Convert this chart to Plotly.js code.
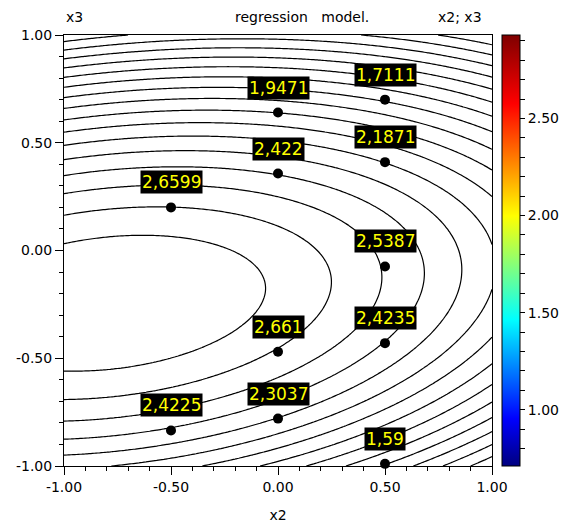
<!DOCTYPE html>
<html><head><meta charset="utf-8">
<script src="https://cdn.plot.ly/plotly-3.0.1.min.js"></script>
<style>html,body{margin:0;padding:0;background:#fff}#chart{width:573px;height:525px}</style>
</head><body><div id="chart"></div>
<script>
// Quadratic regression model: z = b0 + b1*x2 + b2*x3 + b11*x2^2 + b22*x3^2 + b12*x2*x3
const modelTerms = ['const', 'x2', 'x3', 'x2^2', 'x3^2', 'x2*x3'];
const modelCoef  = [2.7343, -0.3079, -0.4267, -0.2301, -1.255, 0.236];

// contour levels
const levelStart = 0.87, levelEnd = 2.80, levelStep = 0.12;

// labelled design points
const pointX2    = [0, 0.5, 0, 0.5, -0.5, 0.5, 0, 0.5, -0.5, 0, 0.5];
const pointX3    = [0.64, 0.70, 0.357, 0.41, 0.20, -0.074, -0.47, -0.43, -0.835, -0.78, -0.99];
const pointValue = [1.9471, 1.7111, 2.422, 2.1871, 2.6599, 2.5387, 2.661, 2.4235, 2.4225, 2.3037, 1.59];

// axis ticks
const axisTickVals = [-1, -0.5, 0, 0.5, 1];
const axisTickText = ['-1.00', '-0.50', '0.00', '0.50', '1.00'];

// colour bar
const colorMin = 0.71, colorMax = 2.93;
const cbTickVals = [0.8, 0.9, 1.0, 1.1, 1.2, 1.3, 1.4, 1.5, 1.6, 1.7, 1.8, 1.9, 2.0, 2.1, 2.2, 2.3, 2.4, 2.5, 2.6, 2.7, 2.8, 2.9];
const cbTickText = ['', '', '1.00', '', '', '', '', '1.50', '', '', '', '', '2.00', '', '', '', '', '2.50', '', '', '', ''];
const jetScale = [[0, '#00007f'], [0.11, '#0000ff'], [0.34, '#00ffff'], [0.58, '#ffff00'], [0.84, '#ff0000'], [1, '#7f0000']];

// evaluation grid for the model surface
const N = 121;
const gx = [], gy = [];
for (let i = 0; i < N; i++) { gx.push(-1 + 2 * i / (N - 1)); gy.push(-1 + 2 * i / (N - 1)); }
function model(a, b) {
  const c = modelCoef;
  return c[0] + c[1] * a + c[2] * b + c[3] * a * a + c[4] * b * b + c[5] * a * b;
}
const gz = gy.map(b => gx.map(a => model(a, b)));

const FONT = 'DejaVu Sans, Verdana, sans-serif';

const traces = [
  {
    type: 'contour', x: gx, y: gy, z: gz,
    autocontour: false,
    contours: { start: levelStart, end: levelEnd, size: levelStep, coloring: 'none', showlabels: false },
    line: { color: '#000', width: 1.2, smoothing: 0.5 },
    showscale: false, hoverinfo: 'skip'
  },
  {
    type: 'scatter', mode: 'markers', x: pointX2, y: pointX3, cliponaxis: false,
    marker: { color: '#000', size: 10 }, hoverinfo: 'skip'
  },
  {
    type: 'scatter', mode: 'markers', x: [null, null], y: [null, null], hoverinfo: 'skip',
    marker: {
      color: [colorMin, colorMax], cmin: colorMin, cmax: colorMax, colorscale: jetScale,
      showscale: true, opacity: 0,
      colorbar: {
        x: 1.0234, xanchor: 'left', y: 0.5, yanchor: 'middle',
        len: 1, lenmode: 'fraction', thickness: 18, thicknessmode: 'pixels',
        xpad: 0, ypad: 0, outlinewidth: 1, outlinecolor: '#000', borderwidth: 0,
        ticks: 'outside', ticklen: 5, tickwidth: 1, tickcolor: '#000',
        tickmode: 'array', tickvals: cbTickVals, ticktext: cbTickText,
        tickfont: { family: FONT, size: 14, color: '#000' }
      }
    }
  }
];

const fmt = v => String(v).replace('.', ',');
const annotations = pointValue.map((v, i) => ({
  x: pointX2[i], y: pointX3[i], xref: 'x', yref: 'y', text: fmt(v),
  showarrow: false, yshift: 25, bgcolor: '#000', borderpad: 1,
  font: { family: FONT, size: 17, color: '#ffff00' }
}));
annotations.push(
  { xref: 'paper', yref: 'paper', x: 0.0, y: 1.042, xanchor: 'left', yanchor: 'middle', showarrow: false,
    text: 'x3', font: { family: FONT, size: 14, color: '#000' } },
  { xref: 'paper', yref: 'paper', x: 0.556, y: 1.042, xanchor: 'center', yanchor: 'middle', showarrow: false,
    text: 'regression\u00a0\u00a0\u00a0model.', font: { family: FONT, size: 14, color: '#000' } },
  { xref: 'paper', yref: 'paper', x: 0.981, y: 1.042, xanchor: 'right', yanchor: 'middle', showarrow: false,
    text: 'x2; x3', font: { family: FONT, size: 14, color: '#000' } }
);

const axisBase = {
  range: [-1, 1], tickmode: 'array', tickvals: axisTickVals, ticktext: axisTickText,
  ticks: 'outside', ticklen: 8, tickwidth: 1, tickcolor: '#000',
  showline: true, linecolor: '#000', linewidth: 1, mirror: true,
  showgrid: false, zeroline: false, fixedrange: true,
  tickfont: { family: FONT, size: 14, color: '#000' },
  minor: { tickmode: 'linear', tick0: 0, dtick: 0.1, ticks: 'outside', ticklen: 4, tickwidth: 1, tickcolor: '#000', showgrid: false }
};

const layout = {
  width: 573, height: 525,
  margin: { l: 64, r: 81, t: 35, b: 59, pad: 0 },
  paper_bgcolor: '#fff', plot_bgcolor: '#fff', showlegend: false,
  xaxis: Object.assign({}, axisBase, { title: { text: 'x2', font: { family: FONT, size: 14, color: '#000' }, standoff: 16 } }),
  yaxis: Object.assign({}, axisBase),
  annotations: annotations
};

Plotly.newPlot('chart', traces, layout, { displayModeBar: false, staticPlot: true });
</script>
</body></html>
